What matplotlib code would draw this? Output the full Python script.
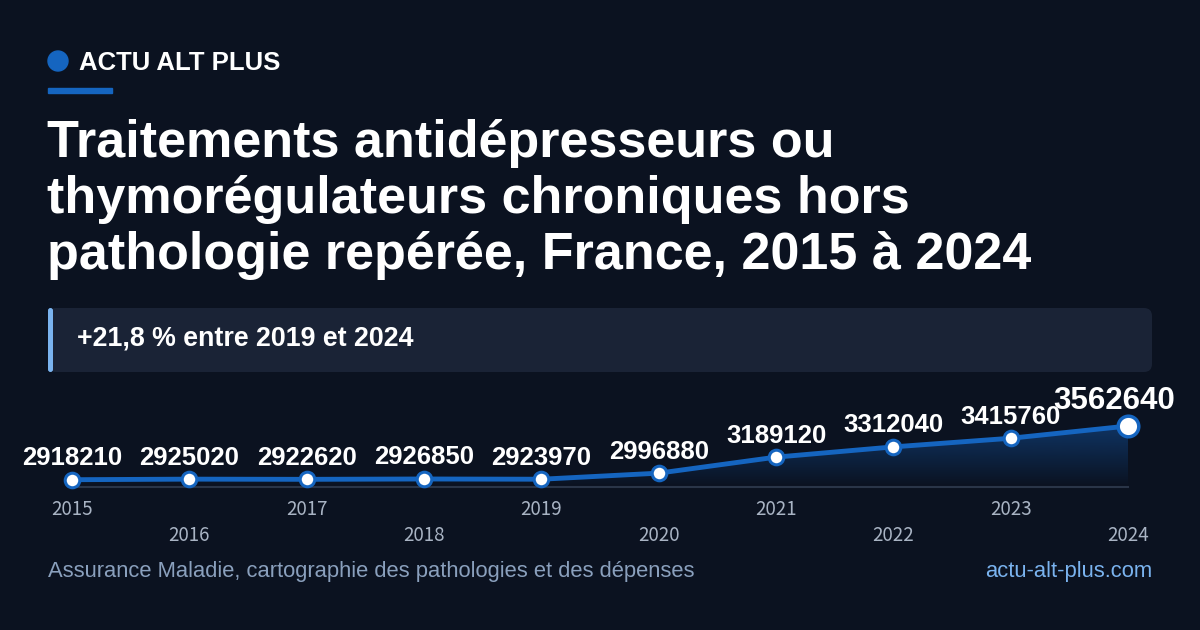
import matplotlib
matplotlib.use("Agg")
import matplotlib.pyplot as plt
import numpy as np
from matplotlib.patches import FancyBboxPatch, Circle, Rectangle, Polygon

annees = [2015, 2016, 2017, 2018, 2019, 2020, 2021, 2022, 2023, 2024]
valeurs = [2918210, 2925020, 2922620, 2926850, 2923970, 2996880, 3189120, 3312040, 3415760, 3562640]
etiquettes = [str(a) for a in annees]

titre = ["Traitements antidépresseurs ou",
         "thymorégulateurs chroniques hors",
         "pathologie repérée, France, 2015 à 2024"]
sous_titre = "+21,8 % entre 2019 et 2024"
source = "Assurance Maladie, cartographie des pathologies et des dépenses"
site = "actu-alt-plus.com"

FOND = "#0b1220"
BLEU = "#1565c0"
W, H = 1200, 630

fig = plt.figure(figsize=(12, 6.3), dpi=100, facecolor=FOND)
bg = fig.add_axes([0, 0, 1, 1])
bg.set_xlim(0, W)
bg.set_ylim(H, 0)
bg.axis("off")
bg.set_facecolor(FOND)

# en-tete
bg.add_patch(Circle((58, 61), 10, color=BLEU))
bg.text(79, 63, "ACTU ALT PLUS", color="white", fontsize=18.5, fontweight="bold",
        family="Liberation Sans", va="center", ha="left")
bg.add_patch(Rectangle((48, 88), 64, 4.5, color=BLEU))

for i, ligne in enumerate(titre):
    bg.text(47, 157 + 56 * i, ligne, color="white", fontsize=37.5, fontweight="bold",
            family="Liberation Sans", va="baseline", ha="left")

# encadre
bg.add_patch(FancyBboxPatch((48, 308), 1104, 64, boxstyle="round,pad=0,rounding_size=8",
                            color="#1a2336", lw=0))
bg.add_patch(FancyBboxPatch((48, 308), 5, 64, boxstyle="round,pad=0,rounding_size=2.5",
                            color="#7ab3ef", lw=0))
bg.text(77, 339, sous_titre, color="white", fontsize=19.3, fontweight="bold",
        family="Liberation Sans", va="center", ha="left")

# pied
bg.text(48, 571, source, color="#8aa0bd", fontsize=15.8, family="Liberation Sans",
        va="center", ha="left")
bg.text(1152, 571, site, color="#7ab3ef", fontsize=15.8, family="Liberation Sans",
        va="center", ha="right")

# graphique
x0, x1 = 72, 1128
ytop, ybas = 426, 487
ax = fig.add_axes([x0 / W, 1 - ybas / H, (x1 - x0) / W, (ybas - ytop) / H])
ax.axis("off")
x = np.arange(len(annees))
ymin = min(valeurs) * 0.97
ax.set_xlim(0, len(annees) - 1)
ax.set_ylim(ymin, max(valeurs))

# degrade sous la courbe
grad = np.linspace(0.4, 0.0, 256).reshape(-1, 1)
rgba = np.zeros((256, 1, 4))
rgba[..., 0] = 0.08
rgba[..., 1] = 0.4
rgba[..., 2] = 0.78
rgba[..., 3] = grad
im = ax.imshow(rgba, aspect="auto", extent=[0, len(annees) - 1, ymin, max(valeurs)],
               origin="upper", zorder=1)
poly = Polygon(list(zip(x, valeurs)) + [(x[-1], ymin), (0, ymin)], closed=True,
               transform=ax.transData, facecolor="none", edgecolor="none")
ax.add_patch(poly)
im.set_clip_path(poly)

ax.plot([0, len(annees) - 1], [ymin, ymin], color="#2a3548", lw=1.5, zorder=2, clip_on=False)
ax.plot(x, valeurs, color=BLEU, lw=3.5, zorder=3, clip_on=False, solid_capstyle="round")
ax.scatter(x[:-1], valeurs[:-1], s=110, facecolor="white", edgecolor=BLEU, linewidth=2.2,
           zorder=4, clip_on=False)
ax.scatter(x[-1:], valeurs[-1:], s=220, facecolor="white", edgecolor=BLEU, linewidth=2.5,
           zorder=4, clip_on=False)

for i, v in enumerate(valeurs):
    if i == len(valeurs) - 1:
        ax.annotate(str(v), (x[i], v), xytext=(-10, 18), textcoords="offset points",
                    ha="center", va="center", color="white", fontweight="bold",
                    fontsize=22.5, family="Liberation Sans", zorder=5)
    else:
        ax.annotate(str(v), (x[i], v), xytext=(0, 15.5), textcoords="offset points",
                    ha="center", va="center", color="white", fontweight="bold",
                    fontsize=18.5, family="Liberation Sans", zorder=5)
    ax.annotate(etiquettes[i], (x[i], ymin), xytext=(0, -16.3 if i % 2 == 0 else -35),
                textcoords="offset points", ha="center", va="center", color="#a9b4c4",
                fontsize=13.5, family=["Noto Sans CJK SC", "DejaVu Sans"])

fig.savefig("out.png", dpi=100, facecolor=FOND)
